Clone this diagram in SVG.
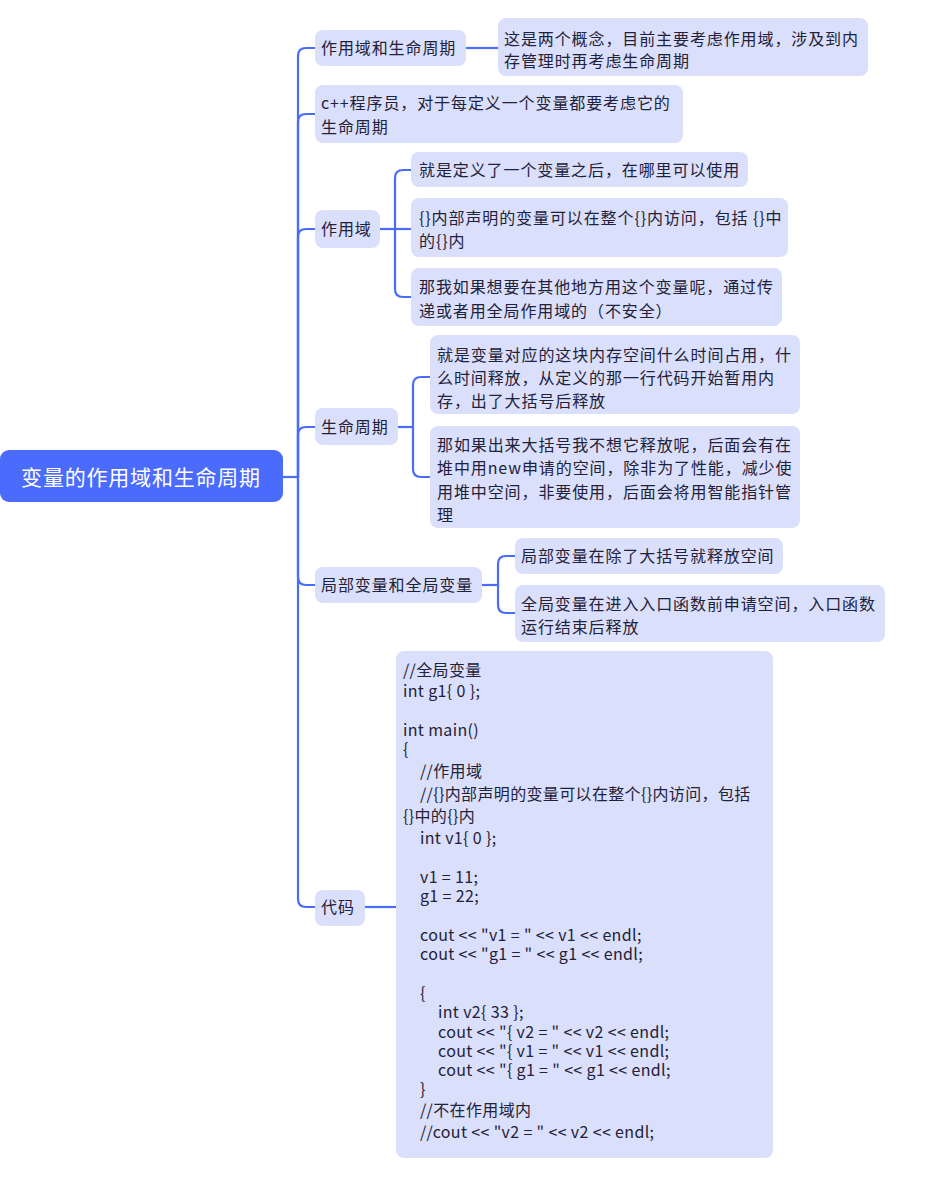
<svg xmlns="http://www.w3.org/2000/svg" width="926" height="1182" viewBox="0 0 926 1182">
<style>
.n{fill:#dadffc;}
.t{font-family:"Noto Sans CJK SC","Noto Sans",sans-serif;font-size:16px;letter-spacing:0.9px;fill:#1f2238;}
.c{font-family:"Noto Sans CJK SC","Noto Sans",sans-serif;font-size:16px;letter-spacing:0.35px;fill:#1f2238;}
.r{font-family:"Noto Sans CJK SC","Noto Sans",sans-serif;font-size:21px;letter-spacing:0.8px;fill:#ffffff;}
.l{fill:none;stroke:#4a6cfb;stroke-width:2.2;}
</style>
<rect width="926" height="1182" fill="#ffffff"/>
<g id="connectors">
<path class="l" d="M283,477 H298"/>
<path class="l" d="M298,477 V56 Q298,48 306,48 H315"/>
<path class="l" d="M298,477 V122 Q298,114 306,114 H315"/>
<path class="l" d="M298,477 V237 Q298,229 306,229 H315"/>
<path class="l" d="M298,477 V435 Q298,427 306,427 H315"/>
<path class="l" d="M298,477 V577 Q298,585 306,585 H315"/>
<path class="l" d="M298,477 V899 Q298,907 306,907 H315"/>
<path class="l" d="M466,48 H498"/>
<path class="l" d="M380,229 H411"/>
<path class="l" d="M395,229 V178 Q395,170 403,170 H411"/>
<path class="l" d="M395,229 V289 Q395,297 403,297 H411"/>
<path class="l" d="M398,427 H413"/>
<path class="l" d="M413,427 V385 Q413,377 421,377 H430"/>
<path class="l" d="M413,427 V469 Q413,477 421,477 H430"/>
<path class="l" d="M482,585 H498"/>
<path class="l" d="M498,585 V564 Q498,556 506,556 H515"/>
<path class="l" d="M498,585 V605 Q498,613 506,613 H515"/>
<path class="l" d="M365,907 H396"/>
</g>
<g id="root">
<rect x="0" y="450" width="283" height="52" rx="9" fill="#4a6bfb"/>
<text class="r" x="141" y="484.5" text-anchor="middle">变量的作用域和生命周期</text>
</g>
<g id="n1">
<rect class="n" x="315" y="30" width="151" height="36" rx="8"/>
<text class="t" x="321" y="54">作用域和生命周期</text>
</g>
<g id="n1a">
<rect class="n" x="498" y="18" width="370" height="58" rx="8"/>
<text class="t" x="504" y="45">这是两个概念，目前主要考虑作用域，涉及到内</text>
<text class="t" x="504" y="67">存管理时再考虑生命周期</text>
</g>
<g id="n2">
<rect class="n" x="315" y="85" width="368" height="58" rx="8"/>
<text class="t" x="321" y="109">c++程序员，对于每定义一个变量都要考虑它的</text>
<text class="t" x="321" y="133">生命周期</text>
</g>
<g id="n3">
<rect class="n" x="315" y="210" width="65" height="38" rx="8"/>
<text class="t" x="321" y="235">作用域</text>
</g>
<g id="n3a">
<rect class="n" x="411" y="152" width="337" height="35" rx="8"/>
<text class="t" x="419" y="176">就是定义了一个变量之后，在哪里可以使用</text>
</g>
<g id="n3b">
<rect class="n" x="411" y="198" width="377" height="59" rx="8"/>
<text class="t" x="419" y="224">{}内部声明的变量可以在整个{}内访问，包括 {}中</text>
<text class="t" x="419" y="247">的{}内</text>
</g>
<g id="n3c">
<rect class="n" x="411" y="268" width="371" height="58" rx="8"/>
<text class="t" x="419" y="293">那我如果想要在其他地方用这个变量呢，通过传</text>
<text class="t" x="419" y="317">递或者用全局作用域的（不安全）</text>
</g>
<g id="n4">
<rect class="n" x="315" y="408" width="83" height="37" rx="8"/>
<text class="t" x="321" y="433">生命周期</text>
</g>
<g id="n4a">
<rect class="n" x="430" y="335" width="370" height="79" rx="8"/>
<text class="t" x="437" y="361">就是变量对应的这块内存空间什么时间占用，什</text>
<text class="t" x="437" y="384">么时间释放，从定义的那一行代码开始暂用内</text>
<text class="t" x="437" y="407">存，出了大括号后释放</text>
</g>
<g id="n4b">
<rect class="n" x="430" y="426" width="370" height="102" rx="8"/>
<text class="t" x="437" y="451">那如果出来大括号我不想它释放呢，后面会有在</text>
<text class="t" x="437" y="474">堆中用new申请的空间，除非为了性能，减少使</text>
<text class="t" x="437" y="498">用堆中空间，非要使用，后面会将用智能指针管</text>
<text class="t" x="437" y="521">理</text>
</g>
<g id="n5">
<rect class="n" x="315" y="567" width="167" height="36" rx="8"/>
<text class="t" x="321" y="591">局部变量和全局变量</text>
</g>
<g id="n5a">
<rect class="n" x="515" y="538" width="268" height="36" rx="8"/>
<text class="t" x="521" y="562">局部变量在除了大括号就释放空间</text>
</g>
<g id="n5b">
<rect class="n" x="515" y="585" width="370" height="57" rx="8"/>
<text class="t" x="521" y="610">全局变量在进入入口函数前申请空间，入口函数</text>
<text class="t" x="521" y="633">运行结束后释放</text>
</g>
<g id="n6">
<rect class="n" x="315" y="890" width="50" height="36" rx="8"/>
<text class="t" x="321" y="913">代码</text>
</g>
<g id="n6a">
<rect class="n" x="396" y="651" width="377" height="507" rx="8"/>
<text class="c" x="403" y="676">//全局变量</text>
<text class="c" x="403" y="697">int g1{ 0 };</text>
<text class="c" x="403" y="736">int main()</text>
<text class="c" x="403" y="755">{</text>
<text class="c" x="420" y="777">//作用域</text>
<text class="c" x="420" y="800">//{}内部声明的变量可以在整个{}内访问，包括</text>
<text class="c" x="403" y="822">{}中的{}内</text>
<text class="c" x="420" y="844">int v1{ 0 };</text>
<text class="c" x="420" y="883">v1 = 11;</text>
<text class="c" x="420" y="902">g1 = 22;</text>
<text class="c" x="420" y="941">cout &lt;&lt; "v1 = " &lt;&lt; v1 &lt;&lt; endl;</text>
<text class="c" x="420" y="960">cout &lt;&lt; "g1 = " &lt;&lt; g1 &lt;&lt; endl;</text>
<text class="c" x="420" y="999">{</text>
<text class="c" x="438" y="1018">int v2{ 33 };</text>
<text class="c" x="438" y="1038">cout &lt;&lt; "{ v2 = " &lt;&lt; v2 &lt;&lt; endl;</text>
<text class="c" x="438" y="1057">cout &lt;&lt; "{ v1 = " &lt;&lt; v1 &lt;&lt; endl;</text>
<text class="c" x="438" y="1076">cout &lt;&lt; "{ g1 = " &lt;&lt; g1 &lt;&lt; endl;</text>
<text class="c" x="420" y="1095">}</text>
<text class="c" x="420" y="1116">//不在作用域内</text>
<text class="c" x="420" y="1138">//cout &lt;&lt; "v2 = " &lt;&lt; v2 &lt;&lt; endl;</text>
</g>
</svg>
